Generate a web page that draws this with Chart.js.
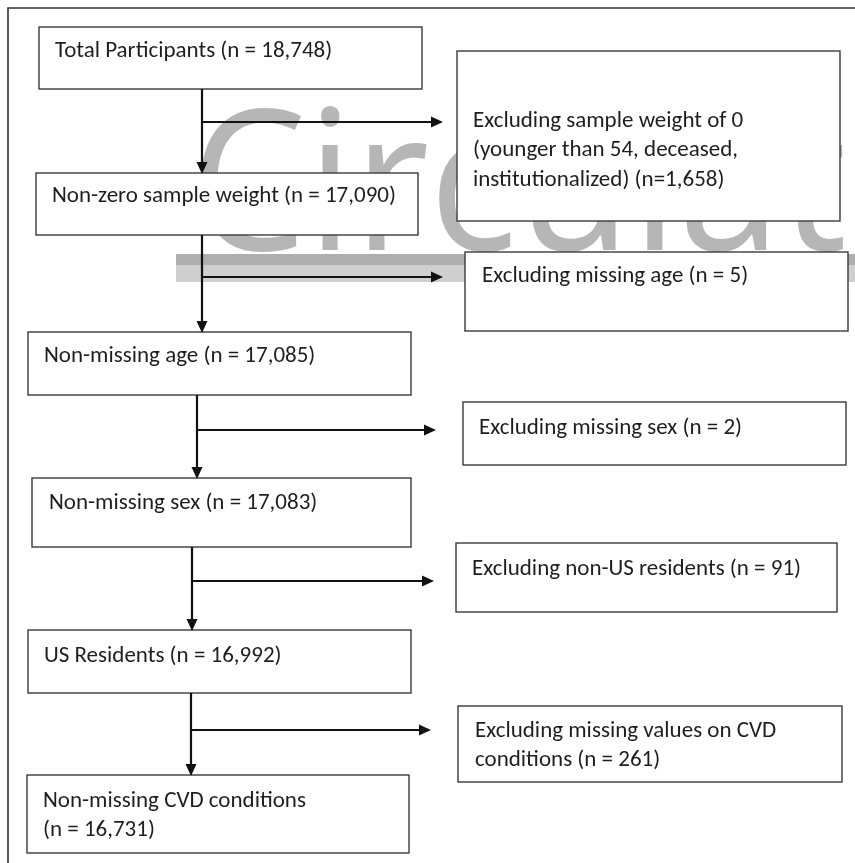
<!DOCTYPE html>
<html>
<head>
<meta charset="utf-8">
<script src="https://cdn.jsdelivr.net/npm/chart.js@4.4.1/dist/chart.umd.min.js"></script>
<style>
  html, body { margin: 0; padding: 0; background: #fff; }
  #wrap { width: 855px; height: 863px; position: relative; }
</style>
</head>
<body>
<div id="wrap"><canvas id="flow"></canvas></div>
<script>
// flow steps (left column) and exclusions (right column)
var stepLabels = ['Total Participants', 'Non-zero sample weight', 'Non-missing age',
  'Non-missing sex', 'US Residents', 'Non-missing CVD conditions\n'];
var stepCounts = [18748, 17090, 17085, 17083, 16992, 16731];
var exclLabels = ['Excluding sample weight of 0\n(younger than 54, deceased,\ninstitutionalized)',
  'Excluding missing age', 'Excluding missing sex', 'Excluding non-US residents',
  'Excluding missing values on CVD\nconditions'];
var exclCounts = [1658, 5, 2, 91, 261];
var exclCompact = [true, false, false, false, false]; // "(n=1,658)" vs "(n = 5)"

// layout, in page units (x 0..855, y 0..863 top-down)
var stepBoxes = [[39, 27, 422, 89], [36, 173, 418, 235], [28, 332, 411, 395],
  [32, 478, 411, 547], [28, 630, 411, 693], [27, 775, 409, 853]];
var stepTextAt = [[55, 51], [52, 196], [44, 356], [49, 503], [44, 656], [43, 801]];
var exclBoxes = [[457, 51, 840, 221], [465, 252, 848, 331], [463, 402, 846, 465],
  [456, 543, 837, 612], [458, 706, 842, 782]];
var exclTextAt = [[473, 121], [482, 276], [479, 428], [472, 569], [475, 731]];
// connector: trunk x, branch y, branch arrow tip x
var trunkX = [202, 202, 197, 192, 191];
var branchY = [122, 277, 430, 581, 730];
var branchTipX = [442, 442, 435, 433, 430];

var LINE_H = 29.5;
var FONT = '23px Carlito, Calibri, Lato, sans-serif';

function fmt(n) { return n.toLocaleString('en-US'); }
function stepText(i) {
  var l = stepLabels[i];
  return l + (l.slice(-1) === '\n' ? '' : ' ') + '(n = ' + fmt(stepCounts[i]) + ')';
}
function exclText(i) {
  return exclLabels[i] + (exclCompact[i] ? ' (n=' : ' (n = ') + fmt(exclCounts[i]) + ')';
}

// connector segments as line datasets
var datasets = [];
for (var i = 0; i < trunkX.length; i++) {
  datasets.push({
    data: [{ x: trunkX[i], y: stepBoxes[i][3] }, { x: trunkX[i], y: stepBoxes[i + 1][1] - 10 }],
    showLine: true, borderColor: '#111', borderWidth: 2.2, pointRadius: 0, arrow: 'down'
  });
  datasets.push({
    data: [{ x: trunkX[i], y: branchY[i] }, { x: branchTipX[i] - 10, y: branchY[i] }],
    showLine: true, borderColor: '#111', borderWidth: 2, pointRadius: 0, arrow: 'right'
  });
}

var flowPlugin = {
  id: 'flow',
  beforeDatasetsDraw: function (chart) {
    var ctx = chart.ctx, xs = chart.scales.x, ys = chart.scales.y;
    var X = function (v) { return xs.getPixelForValue(v); };
    var Y = function (v) { return ys.getPixelForValue(v); };
    ctx.save();

    // journal watermark behind the figure
    ctx.fillStyle = '#aeaeae';
    ctx.fillRect(X(176), Y(254), X(855) - X(176), Y(265) - Y(254));
    ctx.fillStyle = '#cfcfcf';
    ctx.fillRect(X(176), Y(265), X(855) - X(176), Y(282) - Y(265));
    ctx.fillStyle = '#b6b6b6';
    ctx.font = '400 196px "Open Sans", sans-serif';
    ctx.textBaseline = 'alphabetic';
    ctx.save();
    ctx.translate(X(190), Y(250));
    ctx.scale(0.945, 1);
    ctx.fillText('Circulation', 0, 0);
    ctx.restore();

    // outer frame (top and left edges only visible)
    ctx.strokeStyle = '#333';
    ctx.lineWidth = 1.6;
    ctx.beginPath();
    ctx.moveTo(X(8), Y(863));
    ctx.lineTo(X(8), Y(8));
    ctx.lineTo(X(855), Y(8));
    ctx.stroke();

    function box(b, txt, at) {
      var x0 = X(b[0]), y0 = Y(b[1]), x1 = X(b[2]), y1 = Y(b[3]);
      ctx.fillStyle = '#fff';
      ctx.fillRect(x0, y0, x1 - x0, y1 - y0);
      ctx.strokeStyle = '#3a3a3a';
      ctx.lineWidth = 1.4;
      ctx.strokeRect(x0, y0, x1 - x0, y1 - y0);
      ctx.fillStyle = '#1e1e1e';
      ctx.font = FONT;
      ctx.textBaseline = 'middle';
      ctx.textAlign = 'left';
      txt.split('\n').forEach(function (line, k) {
        ctx.fillText(line, X(at[0]), Y(at[1] + k * LINE_H));
      });
    }
    stepBoxes.forEach(function (b, i) { box(b, stepText(i), stepTextAt[i]); });
    exclBoxes.forEach(function (b, i) { box(b, exclText(i), exclTextAt[i]); });
    ctx.restore();
  },
  afterDatasetsDraw: function (chart) {
    var ctx = chart.ctx;
    ctx.save();
    ctx.fillStyle = '#111';
    chart.data.datasets.forEach(function (ds, i) {
      var pts = chart.getDatasetMeta(i).data;
      var end = pts[pts.length - 1];
      var L = 12, W = 5.5;
      ctx.beginPath();
      if (ds.arrow === 'down') {
        ctx.moveTo(end.x - W, end.y - 1);
        ctx.lineTo(end.x + W, end.y - 1);
        ctx.lineTo(end.x, end.y + L - 1);
      } else {
        ctx.moveTo(end.x - 1, end.y - W);
        ctx.lineTo(end.x - 1, end.y + W);
        ctx.lineTo(end.x + L - 1, end.y);
      }
      ctx.closePath();
      ctx.fill();
    });
    ctx.restore();
  }
};

new Chart(document.getElementById('flow').getContext('2d'), {
  type: 'scatter',
  data: { datasets: datasets },
  options: {
    responsive: true,
    maintainAspectRatio: false,
    animation: false,
    layout: { padding: 0 },
    plugins: { legend: { display: false }, tooltip: { enabled: false } },
    scales: {
      x: { type: 'linear', min: 0, max: 855, display: false },
      y: { type: 'linear', min: 0, max: 863, reverse: true, display: false }
    }
  },
  plugins: [flowPlugin]
});
</script>
</body>
</html>
